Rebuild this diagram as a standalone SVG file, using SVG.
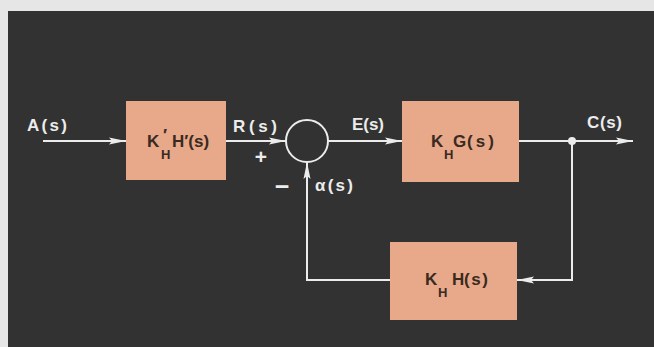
<svg xmlns="http://www.w3.org/2000/svg" width="654" height="347" viewBox="0 0 654 347">
<defs>
<style>
.lbl{font-family:"Liberation Sans",Arial,sans-serif;font-size:17px;fill:#ececec;font-weight:bold}
.sign{font-family:"Liberation Sans",Arial,sans-serif;font-size:21px;fill:#ececec;font-weight:bold}
.btx{font-family:"Liberation Sans",Arial,sans-serif;font-size:17px;fill:#3a2a22;font-weight:bold}
.sub{font-size:13px}
.box{fill:#e7a989;stroke:none}
.wire{fill:none;stroke:#ececec;stroke-width:2}
</style>
<marker id="arr" markerUnits="userSpaceOnUse" markerWidth="18" markerHeight="10" refX="17" refY="5" orient="auto">
<path d="M0,1.5 L17,5 L0,8.5 L3,5 Z" fill="#ececec"/>
</marker>
</defs>
<rect x="0" y="0" width="654" height="347" fill="#e6e6e6"/>
<rect x="8" y="11" width="646" height="336" fill="#323232"/>
<g id="connectors">
<line class="wire" x1="43" y1="141" x2="126" y2="141" marker-end="url(#arr)"/>
<line class="wire" x1="226" y1="141" x2="286" y2="141" marker-end="url(#arr)"/>
<line class="wire" x1="328" y1="141" x2="402" y2="141" marker-end="url(#arr)"/>
<line class="wire" x1="519" y1="141" x2="633" y2="141" marker-end="url(#arr)"/>
<polyline class="wire" points="572,141 572,280 517,280" marker-end="url(#arr)"/>
<polyline class="wire" points="390,280 307,280 307,162" marker-end="url(#arr)"/>
<circle cx="572" cy="141" r="4" fill="#ececec"/>
</g>
<g id="sum">
<circle cx="307" cy="141" r="21" fill="none" stroke="#ececec" stroke-width="2"/>
<text class="sign" x="261" y="164" text-anchor="middle">+</text>
<text class="sign" x="282" y="195" text-anchor="middle" style="font-size:25px">−</text>
</g>
<g id="labels">
<text class="lbl" x="27" y="131" textLength="40" lengthAdjust="spacing">A(s)</text>
<text class="lbl" x="233" y="132" textLength="44" lengthAdjust="spacing">R(s)</text>
<text class="lbl" x="352" y="130" textLength="32" lengthAdjust="spacing">E(s)</text>
<text class="lbl" x="587" y="128" textLength="35" lengthAdjust="spacing">C(s)</text>
<text class="lbl" x="315" y="191" textLength="38" lengthAdjust="spacing">α(s)</text>
</g>
<g id="box1">
<rect class="box" x="126" y="101" width="100" height="79"/>
<text class="btx"><tspan x="147" y="147">K</tspan><tspan class="sub" x="161" y="159">H</tspan><tspan x="163" y="141">′</tspan><tspan x="172" y="147">H′(s)</tspan></text>
</g>
<g id="box2">
<rect class="box" x="402" y="101" width="117" height="81"/>
<text class="btx"><tspan x="431" y="147">K</tspan><tspan class="sub" x="444" y="159">H</tspan><tspan x="453" y="147">G</tspan><tspan x="467" y="147" textLength="27" lengthAdjust="spacing">(s)</tspan></text>
</g>
<g id="box3">
<rect class="box" x="390" y="242" width="127" height="78"/>
<text class="btx"><tspan x="425" y="285">K</tspan><tspan class="sub" x="438" y="297">H</tspan><tspan x="452" y="285">H</tspan><tspan x="464" y="285" textLength="24" lengthAdjust="spacing">(s)</tspan></text>
</g>
</svg>
